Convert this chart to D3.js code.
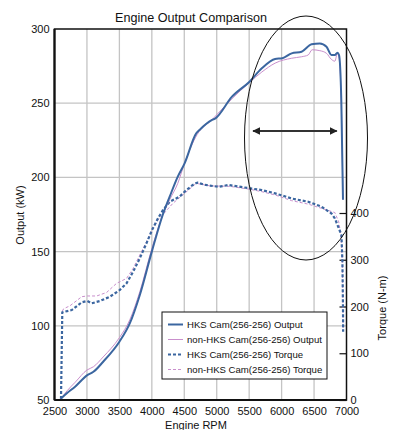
<!DOCTYPE html>
<html>
<head>
<meta charset="utf-8">
<script src="https://cdn.jsdelivr.net/npm/d3@7"></script>
<style>
  body { margin: 0; background: #fff; }
  svg { display: block; font-family: "Liberation Sans", Arial, sans-serif; }
</style>
</head>
<body>
<svg id="chart" width="396" height="430"></svg>
<script>
// RPM / kW / N-m readings for the two cams
const rpmTicks = [2500, 3000, 3500, 4000, 4500, 5000, 5500, 6000, 6500, 7000];
const kwTicks = [50, 100, 150, 200, 250, 300];
const nmTicks = [0, 100, 200, 300, 400];

const hksOutputRpm = [2600, 2690, 2817, 3006, 3100, 3250, 3500, 3660, 3815, 4000, 4170, 4275, 4400, 4505, 4684, 4735, 4929, 4980, 5235, 5505, 5695, 5900, 6011, 6155, 6308, 6462, 6589, 6692, 6768, 6820, 6860, 6885, 6920, 6946];
const hksOutputKw  = [51, 54.5, 59, 66.8, 69, 75.8, 89.3, 101.6, 120.8, 150, 175, 187, 200.5, 209.5, 229.7, 232, 238.7, 239.8, 254.4, 264.5, 273.5, 279.8, 280.3, 283.6, 284.7, 289.7, 290.3, 288, 282.5, 282.5, 284, 282.5, 252, 185];

const stdOutputRpm = [2600, 2700, 2820, 3000, 3100, 3250, 3500, 3660, 3815, 4000, 4170, 4275, 4400, 4500, 4700, 4930, 5235, 5505, 5695, 5900, 6155, 6308, 6410, 6470, 6589, 6692, 6768, 6820, 6860, 6885, 6920, 6946];
const stdOutputKw  = [51, 56.5, 62, 70.2, 72.4, 79, 92, 104, 123, 152, 175, 185, 196, 209, 229, 239, 253, 264, 271, 277, 280.3, 281.3, 282.5, 286, 285.4, 283.6, 279.5, 278.3, 283.6, 280.3, 250, 185];

const hksTorqueRpm = [2600, 2620, 2767, 2920, 3006, 3073, 3200, 3354, 3503, 3610, 3712, 3814, 3917, 4003, 4095, 4171, 4275, 4428, 4505, 4631, 4700, 4826, 5030, 5183, 5505, 5695, 5900, 6155, 6410, 6615, 6768, 6820, 6922, 6937, 6946, 6948];
const hksTorqueNm  = [2, 187.6, 192.5, 209, 211.8, 206.8, 211.8, 221, 235, 249.5, 274.5, 303, 335, 363.6, 388.6, 406, 424, 435, 445.6, 460, 465, 460, 456, 460, 452.8, 449, 442, 431, 424, 413.5, 399, 388.6, 353, 296, 196, 146];

const stdTorqueRpm = [2620, 2640, 2740, 2920, 3006, 3150, 3303, 3456, 3610, 3712, 3814, 3917, 4003, 4095, 4325, 4505, 4684, 4900, 5200, 5500, 5695, 5900, 6155, 6410, 6615, 6820, 6880, 6915, 6935, 6946, 6948];
const stdTorqueNm  = [190, 195, 201.7, 221, 222.5, 222.5, 230, 249.5, 260, 281.6, 310, 338.6, 363.6, 385, 420.7, 442, 463.5, 458, 457, 451, 445.6, 438.5, 426.4, 419, 410, 401, 381, 353, 296, 196, 150];

const seriesNames = [
  "HKS Cam(256-256) Output",
  "non-HKS Cam(256-256) Output",
  "HKS Cam(256-256) Torque",
  "non-HKS Cam(256-256) Torque"
];

// RPM span marked by the double arrow
const bandRpm = [5560, 6850];

const svg = d3.select("#chart");
const plotL = 54.5, plotR = 346.5, plotT = 29, plotB = 400;

const x = d3.scaleLinear().domain([2500, 7000]).range([plotL, plotR]);
const yKw = d3.scaleLinear().domain([50, 300]).range([plotB, plotT]);
const yNm = d3.scaleLinear().domain([0, 400]).range([plotB, 213]);

const blue = "#3b66a0", pink = "#c98fcc";

// grid
const grid = svg.append("g").attr("stroke", "#c4c4c4").attr("stroke-width", 1.3);
grid.selectAll("line.v").data(rpmTicks.slice(1, -1)).join("line")
  .attr("class", "v")
  .attr("x1", d => x(d)).attr("x2", d => x(d)).attr("y1", plotT).attr("y2", plotB);
grid.selectAll("line.h").data(kwTicks.slice(1, -1)).join("line")
  .attr("class", "h")
  .attr("x1", plotL).attr("x2", plotR).attr("y1", d => yKw(d)).attr("y2", d => yKw(d));

// axes
const axisFont = g => g.selectAll("text").attr("font-size", 11).attr("fill", "#111")
  .attr("font-family", "'Liberation Sans', Arial, sans-serif");

svg.append("g").attr("transform", `translate(0,${plotB})`)
  .call(d3.axisBottom(x).tickValues(rpmTicks).tickSize(0).tickPadding(7).tickFormat(d3.format("d")))
  .call(g => g.select(".domain").remove())
  .call(axisFont);

svg.append("g").attr("transform", `translate(${plotL},0)`)
  .call(d3.axisLeft(yKw).tickValues(kwTicks).tickSize(0).tickPadding(5))
  .call(g => g.select(".domain").remove())
  .call(axisFont);

svg.append("g").attr("transform", `translate(${plotR},0)`)
  .call(d3.axisRight(yNm).tickValues(nmTicks).tickSizeInner(-7).tickSizeOuter(0).tickPadding(4))
  .call(g => g.select(".domain").remove())
  .call(g => g.selectAll(".tick line").attr("stroke", "#111").attr("stroke-width", 1.2))
  .call(g => g.selectAll(".tick text").attr("x", 4))
  .call(axisFont);

// frame
svg.append("rect").attr("x", plotL).attr("y", plotT).attr("width", plotR - plotL).attr("height", plotB - plotT)
  .attr("fill", "none").attr("stroke", "#111").attr("stroke-width", 1.5);
svg.append("line").attr("x1", plotL).attr("x2", plotL).attr("y1", plotT).attr("y2", plotB)
  .attr("stroke", "#111").attr("stroke-width", 2.2);
svg.append("line").attr("x1", plotL).attr("x2", plotR).attr("y1", plotB).attr("y2", plotB)
  .attr("stroke", "#111").attr("stroke-width", 2.2);

// curves
const kwLine = d3.line().x(d => x(d[0])).y(d => yKw(d[1])).curve(d3.curveMonotoneX);
const nmLine = d3.line().x(d => x(d[0])).y(d => yNm(d[1]));
const zip = (a, b) => a.map((v, i) => [v, b[i]]);

const plot = svg.append("g").attr("fill", "none").attr("stroke-linejoin", "round");
plot.append("path").datum(zip(stdTorqueRpm, stdTorqueNm)).attr("d", nmLine)
  .attr("stroke", pink).attr("stroke-width", 1).attr("stroke-dasharray", "3,2");
plot.append("path").datum(zip(hksTorqueRpm, hksTorqueNm)).attr("d", nmLine)
  .attr("stroke", blue).attr("stroke-width", 2.2).attr("stroke-dasharray", "3,2");
plot.append("path").datum(zip(stdOutputRpm, stdOutputKw)).attr("d", kwLine)
  .attr("stroke", pink).attr("stroke-width", 1);
plot.append("path").datum(zip(hksOutputRpm, hksOutputKw)).attr("d", kwLine)
  .attr("stroke", blue).attr("stroke-width", 2);

// high-rpm band highlight
svg.append("ellipse").attr("cx", 306).attr("cy", 138).attr("rx", 61.5).attr("ry", 122)
  .attr("fill", "none").attr("stroke", "#111").attr("stroke-width", 1);

const defs = svg.append("defs");
defs.append("marker").attr("id", "head").attr("viewBox", "0 0 10 10")
  .attr("refX", 9).attr("refY", 5).attr("markerWidth", 4).attr("markerHeight", 4)
  .attr("orient", "auto-start-reverse").attr("markerUnits", "strokeWidth")
  .append("path").attr("d", "M0,0 L10,5 L0,10 z").attr("fill", "#222");
svg.append("line").attr("x1", x(bandRpm[0])).attr("x2", x(bandRpm[1])).attr("y1", 131).attr("y2", 131)
  .attr("stroke", "#333").attr("stroke-width", 2)
  .attr("marker-start", "url(#head)").attr("marker-end", "url(#head)");

// legend
const lg = svg.append("g").attr("transform", "translate(162,312)");
lg.append("rect").attr("width", 165).attr("height", 67).attr("fill", "#fff")
  .attr("stroke", "#111").attr("stroke-width", 1);
const styles = [
  { c: blue, w: 2, dash: null },
  { c: pink, w: 1, dash: null },
  { c: blue, w: 2.2, dash: "3,2" },
  { c: pink, w: 1, dash: "3,2" }
];
seriesNames.forEach((name, i) => {
  const yy = 12.5 + i * 15;
  lg.append("line").attr("x1", 6).attr("x2", 21).attr("y1", yy).attr("y2", yy)
    .attr("stroke", styles[i].c).attr("stroke-width", styles[i].w)
    .attr("stroke-dasharray", styles[i].dash);
  lg.append("text").attr("x", 25).attr("y", yy).attr("dy", "0.35em")
    .attr("font-size", 9.6).attr("fill", "#111").text(name);
});

// titles
svg.append("text").attr("x", 191).attr("y", 22).attr("text-anchor", "middle")
  .attr("font-size", 12.6).attr("fill", "#111").text("Engine Output Comparison");
svg.append("text").attr("x", 196).attr("y", 429).attr("text-anchor", "middle")
  .attr("font-size", 11).attr("fill", "#111").text("Engine RPM");
svg.append("text").attr("transform", "translate(24,215) rotate(-90)").attr("text-anchor", "middle")
  .attr("font-size", 11).attr("fill", "#111").text("Output (kW)");
svg.append("text").attr("transform", "translate(386,308) rotate(-90)").attr("text-anchor", "middle")
  .attr("font-size", 11).attr("fill", "#111").text("Torque (N-m)");
</script>
</body>
</html>
